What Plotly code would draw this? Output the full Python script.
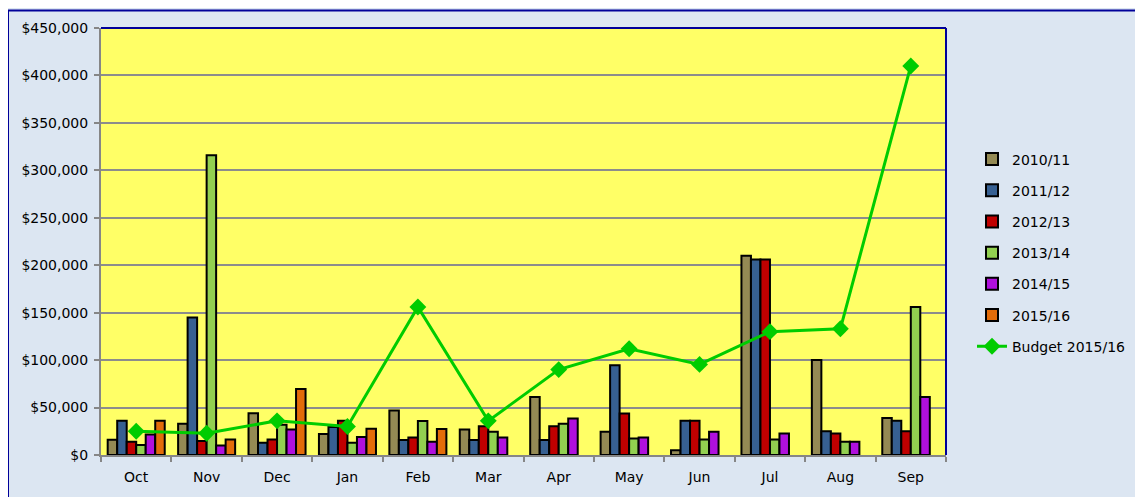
import plotly.graph_objects as go

months = ["Oct", "Nov", "Dec", "Jan", "Feb", "Mar", "Apr", "May", "Jun", "Jul", "Aug", "Sep"]

s_2010_11 = [16000, 33000, 44000, 22000, 47000, 27000, 61000, 24500, 5000, 210000, 100000, 39000]
s_2011_12 = [36000, 145000, 13000, 29500, 15700, 15700, 15700, 94500, 36000, 206000, 25000, 36000]
s_2012_13 = [14000, 14700, 16400, 36000, 18500, 30400, 30400, 43700, 36000, 206000, 22700, 25000]
s_2013_14 = [10500, 316000, 32000, 13000, 35700, 24500, 33000, 17500, 16400, 16400, 14000, 156000]
s_2014_15 = [21700, 10000, 27000, 19000, 14000, 18500, 38500, 18500, 24500, 22700, 14000, 61000]
s_2015_16 = [36000, 16400, 69500, 27600, 27300, None, None, None, None, None, None, None]
budget_2015_16 = [25000, 23000, 36000, 30000, 156000, 36000, 90000, 112000, 95500, 130000, 133000, 410000]

series = [
    ("2010/11", s_2010_11, "#948A54"),
    ("2011/12", s_2011_12, "#376092"),
    ("2012/13", s_2012_13, "#C00000"),
    ("2013/14", s_2013_14, "#92D050"),
    ("2014/15", s_2014_15, "#B010DD"),
    ("2015/16", s_2015_16, "#E36C09"),
]

FONT = "DejaVu Sans"

fig = go.Figure()
for i, (name, vals, col) in enumerate(series):
    fig.add_trace(go.Bar(
        x=months, y=vals, name=name, marker_color=col,
        marker_line_color="#000000", marker_line_width=2,
        legendgroup=f"g{i}",
    ))

fig.add_trace(go.Scatter(
    x=months, y=budget_2015_16, name="Budget 2015/16", mode="lines+markers",
    line=dict(color="#00CC00", width=3),
    marker=dict(symbol="diamond", size=13, color="#00CC00"),
    legendgroup="g6",
))

# page body has an 8px margin, so figure coordinates are screen minus 8
W, H = 1135, 489
L, R, T, B = 93, 197, 18, 42
pw, ph = W - L - R, H - T - B

def px_x(p):
    return (p - L) / pw

def px_y(p):
    return (H - B - p) / ph

shapes = [
    dict(type="rect", xref="paper", yref="paper", x0=px_x(0), x1=px_x(1160), y0=px_y(510), y1=px_y(0.5),
         line=dict(color="#000099", width=2), layer="above"),
    dict(type="line", xref="paper", yref="paper", x0=0, x1=1, y0=1, y1=1,
         line=dict(color="#000099", width=2), layer="above"),
    dict(type="line", xref="paper", yref="paper", x0=1, x1=1, y0=0, y1=1,
         line=dict(color="#000099", width=2), layer="above"),
]

fig.update_layout(
    width=W, height=H,
    margin=dict(l=L, r=R, t=T, b=B, pad=0),
    paper_bgcolor="#DCE6F2",
    plot_bgcolor="#FFFF66",
    barmode="group",
    bargap=0.19,
    bargroupgap=0,
    font=dict(family=FONT, size=14, color="#000000"),
    shapes=shapes,
    legend=dict(
        x=px_x(964), y=px_y(134), xanchor="left", yanchor="top",
        bgcolor="rgba(0,0,0,0)", font=dict(size=14, family=FONT),
        traceorder="grouped", tracegroupgap=10, itemwidth=30,
    ),
    xaxis=dict(
        range=[-0.5, len(months) - 0.5],
        showline=True, linecolor="#868686", linewidth=2,
        ticks="outside", tickson="boundaries", ticklen=5, tickcolor="#868686", tickwidth=2,
        ticklabelstandoff=8,
        showgrid=False, tickfont=dict(size=14, family=FONT),
    ),
    yaxis=dict(
        range=[0, 450000], dtick=50000, tickprefix="$", tickformat=",d",
        showline=True, linecolor="#868686", linewidth=2,
        ticks="outside", ticklen=5, tickcolor="#868686", tickwidth=2,
        ticklabelstandoff=3,
        showgrid=True, gridcolor="#8C8C8C", gridwidth=2,
        zeroline=False, tickfont=dict(size=14, family=FONT),
    ),
    showlegend=True,
)

fig.write_html("out.html")
